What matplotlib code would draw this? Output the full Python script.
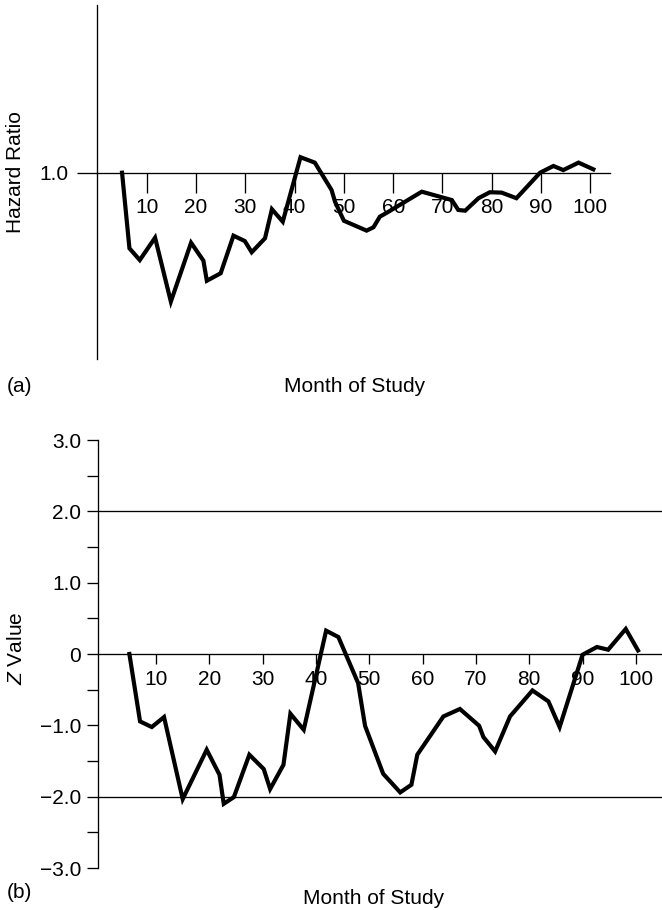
import matplotlib
matplotlib.use("Agg")
import matplotlib.pyplot as plt

plt.rcParams['font.family'] = ['Liberation Sans', 'DejaVu Sans']
plt.rcParams['mathtext.fontset'] = 'custom'
plt.rcParams['mathtext.it'] = 'Liberation Sans:italic'
plt.rcParams['mathtext.rm'] = 'Liberation Sans'

# ---------------- data ----------------
hr_months = [5.0, 6.5, 8.6, 11.7, 14.9, 19.0, 21.5, 22.2, 25.0, 27.6, 29.9, 31.3,
             34.0, 35.4, 37.6, 41.2, 44.1, 47.5, 48.2, 50.0, 54.6, 56.0, 57.3, 58.7,
             65.8, 71.9, 73.2, 74.6, 77.3, 79.6, 82.0, 85.0, 89.8, 92.5, 94.5, 97.6, 100.6]
hr_values = [1.00, 0.594, 0.531, 0.651, 0.308, 0.624, 0.528, 0.420, 0.460, 0.662, 0.633, 0.573,
             0.648, 0.804, 0.737, 1.083, 1.054, 0.907, 0.844, 0.742, 0.689, 0.707, 0.764, 0.785,
             0.898, 0.853, 0.800, 0.796, 0.863, 0.895, 0.893, 0.863, 1.000, 1.036, 1.014, 1.054, 1.018]

z_months = [5.0, 7.0, 9.2, 11.5, 15.0, 19.5, 21.9, 22.7, 24.6, 27.5, 30.2, 31.4, 33.9, 35.2,
            37.7, 41.9, 44.2, 47.9, 49.2, 52.6, 55.8, 57.9, 59.0, 63.9, 67.0, 70.6, 71.4, 73.6,
            76.4, 80.6, 83.6, 85.7, 90.0, 92.7, 94.8, 98.1, 100.4]
z_values = [0.0, -0.945, -1.024, -0.884, -2.034, -1.342, -1.693, -2.100, -2.006, -1.412, -1.613,
            -1.893, -1.553, -0.837, -1.062, 0.327, 0.238, -0.407, -1.006, -1.679, -1.94, -1.833,
            -1.412, -0.875, -0.771, -1.006, -1.164, -1.366, -0.875, -0.511, -0.665, -1.024, -0.01,
            0.098, 0.060, 0.351, 0.050]

x_ticks = [10, 20, 30, 40, 50, 60, 70, 80, 90, 100]
x_tick_labels = ['10', '20', '30', '40', '50', '60', '70', '80', '90', '100']
hr_ticks = [1.0]
hr_tick_labels = ['1.0']
z_ticks = [-3.0, -2.5, -2.0, -1.5, -1.0, -0.5, 0.0, 0.5, 1.0, 1.5, 2.0, 2.5, 3.0]
z_tick_labels = ['\u22123.0', '', '\u22122.0', '', '\u22121.0', '', '0', '', '1.0', '', '2.0', '', '3.0']
z_ref_lines = [2.0, -2.0]

W, H = 662, 910
FS = 15
ALW = 0.95
DLW = 3.0

fig = plt.figure(figsize=(W / 100, H / 100), dpi=100)


def px2pt(p):
    return p * 72 / 100


# ---------------- panel (a) ----------------
ax1 = fig.add_axes([97.4 / W, 1 - 359 / H, 512.7 / W, 354 / H])
ax1.set_xlim(0, 104)
ax1.set_ylim(0, 1.9)
ax1.plot(hr_months, hr_values, color='black', lw=DLW, solid_joinstyle='miter')
for s in ['top', 'right']:
    ax1.spines[s].set_visible(False)
ax1.spines['bottom'].set_position(('data', 1.0))
ax1.spines['bottom'].set_linewidth(ALW)
ax1.spines['left'].set_linewidth(ALW)
ax1.set_xticks(x_ticks)
ax1.set_xticklabels(x_tick_labels)
ax1.set_yticks(hr_ticks)
ax1.set_yticklabels(hr_tick_labels)
ax1.tick_params(axis='x', direction='out', length=px2pt(20), width=ALW, labelsize=FS, pad=px2pt(5))
ax1.tick_params(axis='y', direction='out', length=px2pt(19.6), width=ALW, labelsize=FS, pad=px2pt(9))

# ---------------- panel (b) ----------------
ax2 = fig.add_axes([98.3 / W, 1 - 868 / H, (W - 98.3) / W, 428 / H])
ax2.set_xlim(-0.83, 104.9)
ax2.set_ylim(-3, 3)
for v in z_ref_lines:
    ax2.axhline(v, color='black', lw=ALW)
ax2.plot(z_months, z_values, color='black', lw=DLW, solid_joinstyle='miter')
for s in ['top', 'right']:
    ax2.spines[s].set_visible(False)
ax2.spines['bottom'].set_position(('data', 0.0))
ax2.spines['bottom'].set_linewidth(ALW)
ax2.spines['left'].set_linewidth(ALW)
ax2.set_xticks(x_ticks)
ax2.set_xticklabels(x_tick_labels)
ax2.set_yticks(z_ticks)
ax2.set_yticklabels(z_tick_labels)
ax2.tick_params(axis='x', direction='out', length=px2pt(10), width=ALW, labelsize=FS, pad=px2pt(6))
ax2.tick_params(axis='y', direction='out', length=px2pt(11), width=ALW, labelsize=FS, pad=px2pt(6))

# ---------------- labels ----------------
fig.text(16 / W, 1 - 172 / H, 'Hazard Ratio', rotation=90, ha='center', va='center', fontsize=FS)
fig.text(16 / W, 1 - 648 / H, r'$\mathit{Z}$ Value', rotation=90, ha='center', va='center', fontsize=FS)
fig.text(355 / W, 1 - 387 / H, 'Month of Study', ha='center', va='center', fontsize=FS)
fig.text(374 / W, 1 - 898 / H, 'Month of Study', ha='center', va='center', fontsize=FS)
fig.text(7 / W, 1 - 387 / H, '(a)', ha='left', va='center', fontsize=FS)
fig.text(7 / W, 1 - 892 / H, '(b)', ha='left', va='center', fontsize=FS)

fig.savefig('out.png', dpi=100)
